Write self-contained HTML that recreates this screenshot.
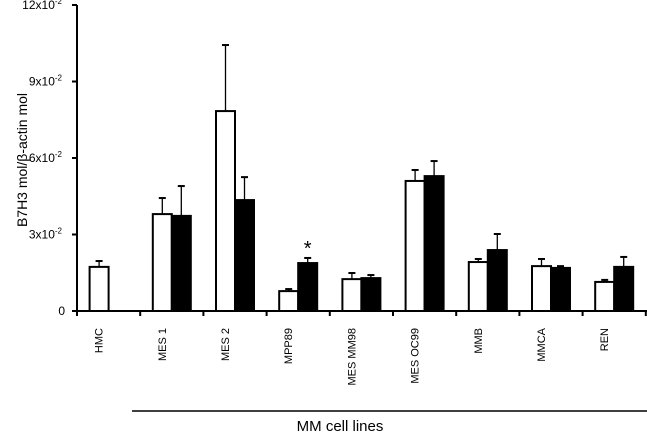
<!DOCTYPE html>
<html><head><meta charset="utf-8"><style>
body{margin:0;background:#fff}
svg{display:block;font-family:"Liberation Sans",sans-serif}
</style></head><body>
<svg id="chart" width="647" height="434" xmlns="http://www.w3.org/2000/svg"></svg>
<script>
const categories=["HMC","MES 1","MES 2","MPP89","MES MM98","MES OC99","MMB","MMCA","REN"];
const whiteVals=[1.73,3.8,7.84,0.78,1.25,5.1,1.92,1.76,1.14];
const whiteErr=[0.23,0.63,2.59,0.08,0.24,0.43,0.12,0.28,0.08];
const blackVals=[null,3.73,4.35,1.88,1.29,5.29,2.39,1.69,1.73];
const blackErr=[null,1.17,0.9,0.2,0.12,0.59,0.63,0.07,0.39];
const yTicks=[0,3,6,9,12];
const yTickLabels=["0","3x10","6x10","9x10","12x10"];
const NS="http://www.w3.org/2000/svg";
const svg=document.getElementById('chart');
const x0=77,y0=311,step=63.2,bw=19;
const y=v=>y0-v*25.5;
const cx=i=>x0+step*(i+0.5);
function el(t,a){const e=document.createElementNS(NS,t);for(const k in a)e.setAttribute(k,a[k]);svg.appendChild(e);return e;}
// axes
let ax=el('line',{x1:x0,y1:y(12),x2:x0,y2:y0,stroke:'#000','stroke-width':2});


let xa=el('line',{x1:x0,y1:y0,x2:647,y2:y0,stroke:'#000','stroke-width':2});


yTicks.forEach((t,i)=>{
  const tk=el('line',{x1:x0-5,y1:y(t),x2:x0,y2:y(t),stroke:'#000','stroke-width':2});
  
  
  const tx=el('text',{x:t===0?65:62,y:y(t)+4,'text-anchor':'end','font-size':12});
  
  
  tx.textContent=yTickLabels[i];
  if(t!==0){const s=document.createElementNS(NS,'tspan');s.setAttribute('dy',-5);s.setAttribute('font-size',8);s.textContent='-2';tx.appendChild(s);}
});
for(let i=0;i<=categories.length;i++){
  const tk=el('line',{x1:x0+step*i,y1:y0,x2:x0+step*i,y2:y0+5,stroke:'#000','stroke-width':2});
  
  
}
function errBar(xc,v,e){
  const l=el('line',{x1:xc,y1:y(v),x2:xc,y2:y(v+e),stroke:'#000','stroke-width':1.3});
  
  
  const c=el('line',{x1:xc-3.5,y1:y(v+e),x2:xc+3.5,y2:y(v+e),stroke:'#000','stroke-width':2});
  
  
}
categories.forEach((c,i)=>{
  const xc=cx(i);
  const w=el('rect',{x:xc-bw,y:y(whiteVals[i]),width:bw,height:y0-y(whiteVals[i]),fill:'#fff',stroke:'#000','stroke-width':2});
  
  
  errBar(xc-bw/2,whiteVals[i],whiteErr[i]);
  if(blackVals[i]!==null){
    const b=el('rect',{x:xc,y:y(blackVals[i]),width:bw,height:y0-y(blackVals[i]),fill:'#000',stroke:'#000','stroke-width':2});
    
    
    errBar(xc+bw/2,blackVals[i],blackErr[i]);
  }
  const lx=xc-10;
  const t=el('text',{x:lx,y:328,'font-size':11,'text-anchor':'end',transform:`rotate(-90 ${lx} 328)`,dy:4});
  
  
  t.textContent=c;
});
const st=el('text',{x:cx(3)+bw/2,y:y(blackVals[3]+blackErr[3])-3,'text-anchor':'middle','font-size':20});


st.textContent='*';
const yt=el('text',{x:0,y:0,'text-anchor':'middle','font-size':14,transform:'translate(27 160) rotate(-90)'});


yt.textContent='B7H3 mol/β-actin mol';
const gl=el('line',{x1:132,y1:411,x2:647,y2:411,stroke:'#000','stroke-width':1.5});


const gt=el('text',{x:340,y:431,'text-anchor':'middle','font-size':15});


gt.textContent='MM cell lines';
</script>
</body></html>
